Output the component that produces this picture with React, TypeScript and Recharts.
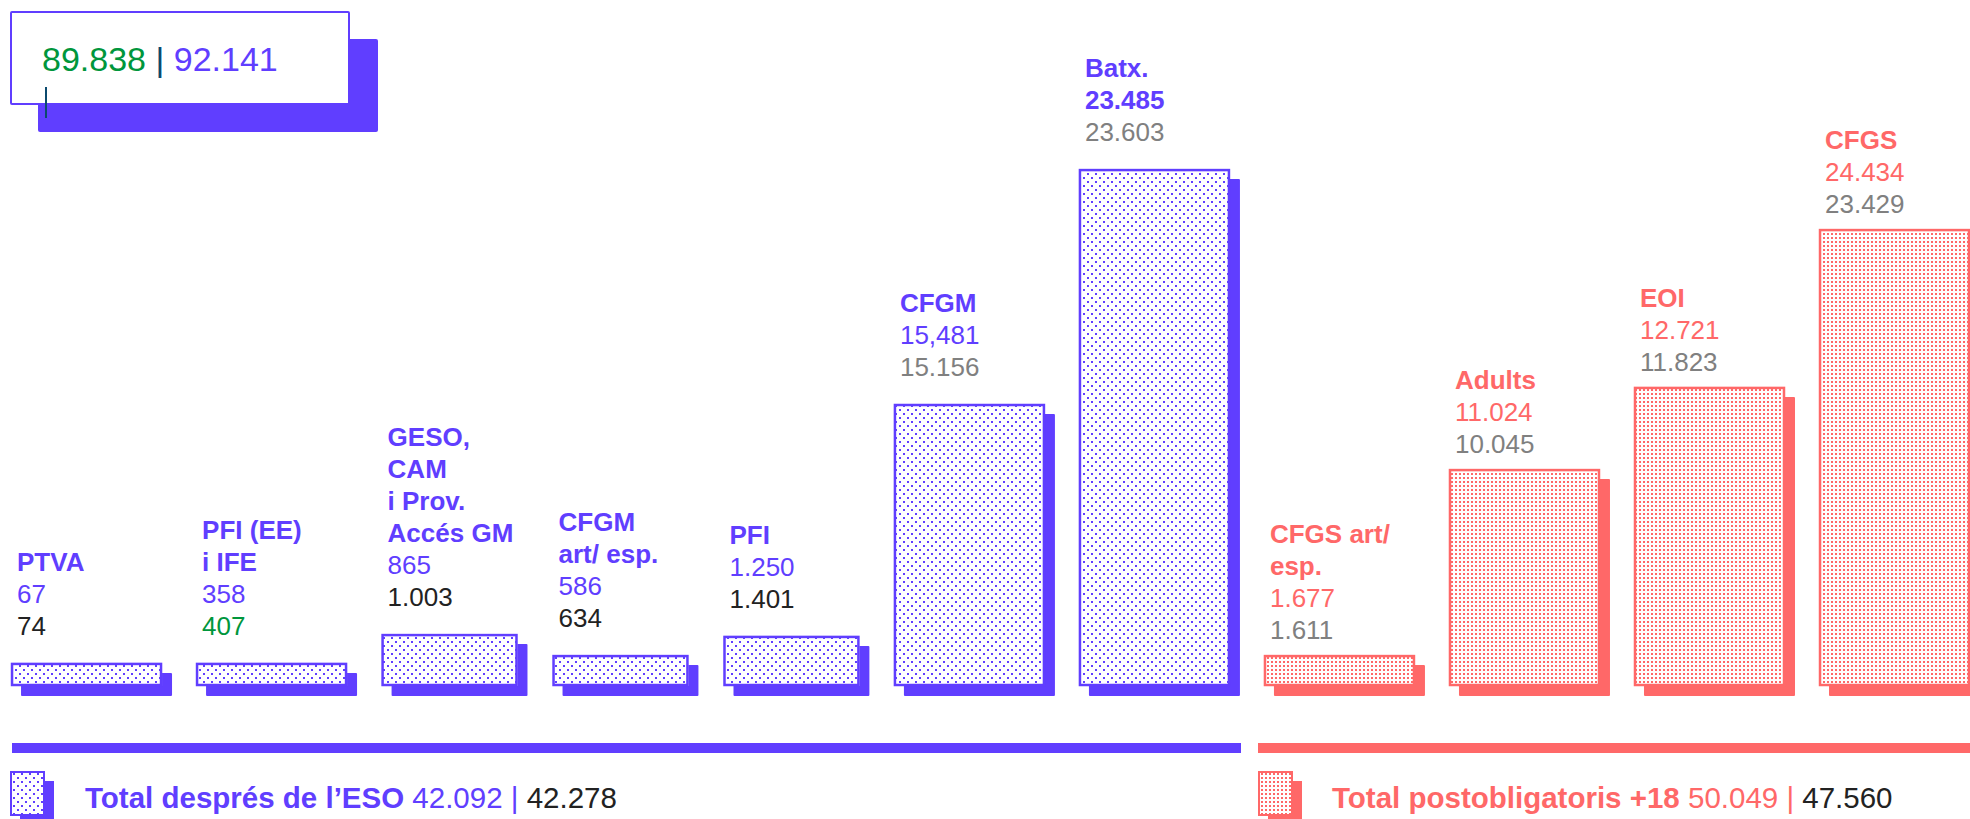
import { BarChart, Bar, XAxis, YAxis } from 'recharts';

// categories, left to right
const categories = ['PTVA', 'PFI (EE) i IFE', 'GESO, CAM i Prov. Accés GM', 'CFGM art/ esp.', 'PFI', 'CFGM', 'Batx.', 'CFGS art/ esp.', 'Adults', 'EOI', 'CFGS'];
const nameLines = [
  ['PTVA'],
  ['PFI (EE)', 'i IFE'],
  ['GESO,', 'CAM', 'i Prov.', 'Accés GM'],
  ['CFGM', 'art/ esp.'],
  ['PFI'],
  ['CFGM'],
  ['Batx.'],
  ['CFGS art/', 'esp.'],
  ['Adults'],
  ['EOI'],
  ['CFGS'],
];
const groups = ['eso', 'eso', 'eso', 'eso', 'eso', 'eso', 'eso', 'adult', 'adult', 'adult', 'adult'];
// three columns in the middle are drawn narrower than the rest
const narrow = [false, false, true, true, true, false, false, false, false, false, false];

// labelled values (current year | previous year), as printed
const currentLabels = ['67', '358', '865', '586', '1.250', '15,481', '23.485', '1.677', '11.024', '12.721', '24.434'];
const previousLabels = ['74', '407', '1.003', '634', '1.401', '15.156', '23.603', '1.611', '10.045', '11.823', '23.429'];

// the bars are not drawn to scale in the original: drawn lengths, read in chart units
const barLength = [1000, 1000, 2250, 1340, 2170, 12220, 22400, 1340, 9400, 12960, 19800];

const totalAll = ['89.838', '92.141'];
const totalEso = ['42.092', '42.278'];
const totalAdult = ['50.049', '47.560'];

const BLUE = '#603EFF';
const RED = '#FF6868';
const GREEN = '#00963C';
const GREY = '#808080';
const INK = '#222222';
const NAVY = '#0B4A6E';
const FONT = '"Liberation Sans", Arial, sans-serif';
const PREV_COLORS = [INK, GREEN, INK, INK, INK, GREY, GREY, GREY, GREY, GREY, GREY];
const NARROW_SPAN = 0.924;
const NARROW_BAR = 0.9;

let acc = 0;
const data = categories.map((name, i) => {
  const span = narrow[i] ? NARROW_SPAN : 1;
  const center = acc + span / 2;
  acc += span;
  return {
    name,
    center,
    narrow: narrow[i],
    lines: nameLines[i],
    group: groups[i],
    current: currentLabels[i],
    previous: previousLabels[i],
    length: barLength[i],
  };
});
const totalSpan = acc;

function ShadowBar(props: any) {
  const { x, y, width, height, payload, index } = props;
  const eso = payload.group === 'eso';
  const color = eso ? BLUE : RED;
  const w = payload.narrow ? width * NARROW_BAR : width;
  const bx = x + (width - w) / 2;
  const gap = eso ? 28 : 16;
  const tx = bx + 6;
  const lineH = 32;
  const baseY = y - gap;
  const names: string[] = payload.lines;
  return (
    <g>
      <rect x={bx + 10} y={y + 10} width={w} height={height} fill={color} rx={1} />
      <rect x={bx} y={y} width={w} height={height} fill="#fff" />
      <rect
        x={bx + 1}
        y={y + 1}
        width={w - 2}
        height={height - 2}
        fill={eso ? 'url(#dotsBlue)' : 'url(#dotsRed)'}
        stroke={color}
        strokeWidth={2.5}
      />
      <text x={tx} y={baseY} fontSize={26} fontFamily={FONT} fill={PREV_COLORS[index]}>
        {payload.previous}
      </text>
      <text
        x={tx}
        y={baseY - lineH}
        fontSize={26}
        fontFamily={FONT}
        fill={color}
        fontWeight={payload.name === 'Batx.' ? 'bold' : 'normal'}
      >
        {payload.current}
      </text>
      {names.map((ln, k) => (
        <text
          key={k}
          x={tx}
          y={baseY - lineH * (names.length - k + 1)}
          fontSize={26}
          fontFamily={FONT}
          fontWeight="bold"
          fill={color}
        >
          {ln}
        </text>
      ))}
    </g>
  );
}

function Overlay() {
  return (
    <svg width={1970} height={819} style={{ position: 'absolute', left: 0, top: 0 }}>
      <defs>
        <pattern id="legBlue" width={8} height={8} patternUnits="userSpaceOnUse">
          <rect width={8} height={8} fill="#fff" />
          <rect x={1} y={1} width={2} height={2} fill={BLUE} />
          <rect x={5} y={5} width={2} height={2} fill={BLUE} />
        </pattern>
        <pattern id="legRed" width={4} height={4} patternUnits="userSpaceOnUse">
          <rect width={4} height={4} fill="#fff" />
          <rect x={1} y={1} width={2} height={2} fill={RED} />
        </pattern>
      </defs>

      {/* overall total box */}
      <rect x={38} y={39} width={340} height={93} fill={BLUE} rx={2} />
      <rect x={11} y={12} width={338} height={92} fill="#fff" stroke={BLUE} strokeWidth={2} rx={1} />
      <text x={42} y={71} fontSize={34} fontFamily={FONT}>
        <tspan fill={GREEN}>{totalAll[0]}</tspan>
        <tspan fill={NAVY}> | </tspan>
        <tspan fill={BLUE}>{totalAll[1]}</tspan>
      </text>
      <line x1={46} y1={87} x2={46} y2={118} stroke={NAVY} strokeWidth={2} />

      {/* group rules */}
      <rect x={12} y={743} width={1229} height={10} fill={BLUE} />
      <rect x={1258} y={743} width={712} height={10} fill={RED} />

      {/* legend: after ESO */}
      <rect x={20} y={781} width={34} height={44} fill={BLUE} />
      <rect x={11} y={772} width={33} height={43} fill="url(#legBlue)" stroke={BLUE} strokeWidth={2} />
      <text x={85} y={808} fontSize={29.5} fontFamily={FONT}>
        <tspan fill={BLUE} fontWeight="bold">Total després de l’ESO </tspan>
        <tspan fill={BLUE}>{totalEso[0]} | </tspan>
        <tspan fill={INK}>{totalEso[1]}</tspan>
      </text>

      {/* legend: post-compulsory 18+ */}
      <rect x={1268} y={781} width={34} height={44} fill={RED} />
      <rect x={1259} y={772} width={33} height={43} fill="url(#legRed)" stroke={RED} strokeWidth={2} />
      <text x={1332} y={808} fontSize={29.5} fontFamily={FONT}>
        <tspan fill={RED} fontWeight="bold">Total postobligatoris +18 </tspan>
        <tspan fill={RED}>{totalAdult[0]} | </tspan>
        <tspan fill={INK}>{totalAdult[1]}</tspan>
      </text>
    </svg>
  );
}

export default function App() {
  return (
    <div style={{ position: 'absolute', left: 0, top: 0, width: 1970, height: 819, overflow: 'hidden', background: '#fff' }}>
      <div style={{ position: 'absolute', left: -6, top: 0 }}>
        <BarChart
          width={1993}
          height={819}
          data={data}
          margin={{ top: 86, right: 0, bottom: 133, left: 0 }}
          style={{ overflow: 'visible' }}
        >
          <defs>
            <pattern id="dotsBlue" width={8} height={8} patternUnits="userSpaceOnUse">
              <rect width={8} height={8} fill="#fff" />
              <rect x={1} y={1} width={2} height={2} fill={BLUE} />
              <rect x={5} y={5} width={2} height={2} fill={BLUE} />
            </pattern>
            <pattern id="dotsRed" width={4} height={4} patternUnits="userSpaceOnUse">
              <rect width={4} height={4} fill="#fff" />
              <rect x={1} y={1} width={2} height={2} fill={RED} />
            </pattern>
          </defs>
          <XAxis dataKey="center" type="number" domain={[0, totalSpan]} hide />
          <YAxis hide domain={[0, 26000]} />
          <Bar dataKey="length" barSize={151} isAnimationActive={false} shape={(p: any) => <ShadowBar {...p} />} />
        </BarChart>
      </div>
      <Overlay />
    </div>
  );
}
